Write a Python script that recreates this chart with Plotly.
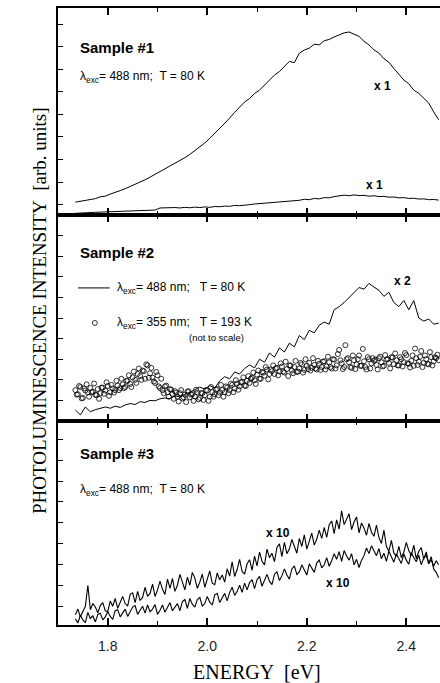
import numpy as np
import plotly.graph_objects as go

# ---------------- data ----------------
E_START = 1.735
STEP_COARSE = 0.01
STEP_FINE = 0.005

# Sample #1 (lambda_exc = 488 nm, T = 80 K)
s1_strong = [0.062, 0.066, 0.069, 0.075, 0.079, 0.088, 0.091, 0.101, 0.108, 0.118,
             0.127, 0.137, 0.148, 0.159, 0.170, 0.183, 0.196, 0.209, 0.221, 0.234,
             0.248, 0.262, 0.277, 0.293, 0.311, 0.329, 0.348, 0.370, 0.394, 0.418,
             0.445, 0.468, 0.496, 0.519, 0.546, 0.563, 0.587, 0.603, 0.628, 0.651,
             0.676, 0.693, 0.716, 0.742, 0.736, 0.782, 0.797, 0.806, 0.825, 0.822,
             0.842, 0.848, 0.860, 0.871, 0.880, 0.884, 0.872, 0.863, 0.839, 0.822,
             0.798, 0.782, 0.755, 0.738, 0.708, 0.682, 0.652, 0.634, 0.603, 0.588,
             0.562, 0.541, 0.498, 0.460]
s1_weak = [0.008, 0.010, 0.012, 0.011, 0.013, 0.014, 0.015, 0.016, 0.015, 0.018,
           0.017, 0.020, 0.019, 0.021, 0.020, 0.022, 0.024, 0.034, 0.035, 0.033,
           0.036, 0.034, 0.037, 0.035, 0.038, 0.036, 0.039, 0.037, 0.041, 0.040,
           0.043, 0.042, 0.046, 0.045, 0.049, 0.050, 0.053, 0.055, 0.057, 0.058,
           0.061, 0.062, 0.066, 0.065, 0.070, 0.071, 0.076, 0.074, 0.080, 0.078,
           0.084, 0.083, 0.089, 0.092, 0.096, 0.093, 0.097, 0.094, 0.095, 0.091,
           0.093, 0.089, 0.090, 0.086, 0.087, 0.083, 0.084, 0.080, 0.081, 0.077,
           0.078, 0.074, 0.075, 0.072]

# Sample #2: solid line (488 nm, 80 K) and circles (355 nm, 193 K)
s2_line = [0.053, 0.030, 0.068, 0.045, 0.055, 0.060, 0.068, 0.062, 0.072, 0.066,
           0.078, 0.085, 0.080, 0.094, 0.090, 0.100, 0.098, 0.108, 0.112, 0.108,
           0.122, 0.118, 0.128, 0.140, 0.152, 0.165, 0.155, 0.172, 0.160, 0.195,
           0.215, 0.205, 0.238, 0.228, 0.255, 0.272, 0.258, 0.300, 0.285, 0.330,
           0.310, 0.355, 0.335, 0.378, 0.360, 0.415, 0.395, 0.440, 0.428, 0.465,
           0.480, 0.470, 0.540, 0.555, 0.575, 0.600, 0.620, 0.648, 0.640, 0.668,
           0.650, 0.635, 0.605, 0.625, 0.575, 0.555, 0.585, 0.540, 0.585, 0.500,
           0.485, 0.495, 0.470, 0.475]
s2_circles = [0.150, 0.130, 0.165, 0.112, 0.148, 0.138, 0.160, 0.142, 0.128, 0.155,
              0.135, 0.162, 0.148, 0.170, 0.140, 0.158, 0.150, 0.172, 0.160, 0.178,
              0.165, 0.195, 0.180, 0.212, 0.200, 0.228, 0.218, 0.245, 0.205, 0.270,
              0.232, 0.210, 0.185, 0.222, 0.160, 0.150, 0.168, 0.140, 0.155, 0.132,
              0.145, 0.118, 0.135, 0.110, 0.128, 0.142, 0.115, 0.130, 0.120, 0.138,
              0.112, 0.135, 0.125, 0.148, 0.118, 0.140, 0.130, 0.155, 0.138, 0.150,
              0.140, 0.162, 0.150, 0.175, 0.158, 0.182, 0.168, 0.190, 0.172, 0.195,
              0.185, 0.210, 0.198, 0.225, 0.205, 0.238, 0.220, 0.250, 0.228, 0.242,
              0.228, 0.258, 0.240, 0.265, 0.235, 0.252, 0.270, 0.245, 0.262, 0.238,
              0.255, 0.275, 0.248, 0.268, 0.282, 0.258, 0.272, 0.250, 0.278, 0.262,
              0.290, 0.265, 0.285, 0.255, 0.298, 0.270, 0.345, 0.280, 0.262, 0.300,
              0.285, 0.258, 0.295, 0.275, 0.318, 0.268, 0.290, 0.250, 0.300, 0.280,
              0.292, 0.272, 0.305, 0.285, 0.268, 0.298, 0.282, 0.310, 0.276, 0.295,
              0.270, 0.300, 0.286, 0.320, 0.278, 0.292, 0.268, 0.305, 0.288, 0.340,
              0.282, 0.300, 0.275, 0.310, 0.290, 0.305, 0.295]
s2_circles_b = [0.128, 0.170, 0.110, 0.158, 0.178, 0.118, 0.140, 0.182, 0.125, 0.108,
                0.162, 0.132, 0.188, 0.122, 0.175, 0.138, 0.195, 0.150, 0.205, 0.160,
                0.195, 0.222, 0.165, 0.240, 0.185, 0.255, 0.200, 0.242, 0.275, 0.210,
                0.258, 0.192, 0.238, 0.168, 0.205, 0.135, 0.172, 0.118, 0.152, 0.108,
                0.138, 0.095, 0.150, 0.115, 0.092, 0.145, 0.128, 0.098, 0.152, 0.105,
                0.135, 0.102, 0.150, 0.098, 0.165, 0.118, 0.152, 0.125, 0.175, 0.118,
                0.168, 0.135, 0.182, 0.140, 0.198, 0.152, 0.188, 0.212, 0.170, 0.218,
                0.205, 0.235, 0.180, 0.245, 0.205, 0.235, 0.262, 0.202, 0.250, 0.270,
                0.255, 0.222, 0.280, 0.240, 0.288, 0.218, 0.270, 0.232, 0.292, 0.240,
                0.282, 0.235, 0.300, 0.252, 0.245, 0.305, 0.255, 0.292, 0.248, 0.288,
                0.250, 0.312, 0.262, 0.300, 0.255, 0.325, 0.295, 0.252, 0.368, 0.305,
                0.262, 0.318, 0.252, 0.300, 0.268, 0.350, 0.262, 0.310, 0.255, 0.305,
                0.298, 0.250, 0.312, 0.265, 0.320, 0.300, 0.255, 0.308, 0.328, 0.270,
                0.310, 0.265, 0.330, 0.280, 0.260, 0.318, 0.352, 0.272, 0.312, 0.262,
                0.318, 0.278, 0.335, 0.270, 0.310, 0.322]

# Sample #3 (488 nm, 80 K), two spectra each x 10
s3_upper = [0.050, 0.078, 0.040, 0.066, 0.092, 0.195, 0.075, 0.105, 0.088, 0.060,
            0.095, 0.110, 0.070, 0.065, 0.118, 0.092, 0.130, 0.082, 0.112, 0.140,
            0.105, 0.092, 0.150, 0.158, 0.110, 0.165, 0.120, 0.135, 0.185, 0.140,
            0.155, 0.200, 0.140, 0.172, 0.215, 0.175, 0.150, 0.225, 0.180, 0.228,
            0.165, 0.195, 0.248, 0.210, 0.172, 0.235, 0.195, 0.258, 0.230, 0.180,
            0.210, 0.250, 0.185, 0.225, 0.265, 0.205, 0.198, 0.255, 0.222, 0.245,
            0.210, 0.275, 0.240, 0.310, 0.238, 0.272, 0.322, 0.262, 0.250, 0.300,
            0.320, 0.268, 0.338, 0.290, 0.358, 0.312, 0.295, 0.372, 0.330, 0.352,
            0.310, 0.380, 0.398, 0.335, 0.405, 0.350, 0.372, 0.420, 0.382, 0.352,
            0.425, 0.385, 0.442, 0.372, 0.410, 0.450, 0.392, 0.420, 0.465, 0.425,
            0.478, 0.430, 0.492, 0.510, 0.448, 0.515, 0.470, 0.560, 0.492, 0.520,
            0.545, 0.468, 0.505, 0.530, 0.452, 0.500, 0.475, 0.440, 0.498, 0.455,
            0.435, 0.490, 0.428, 0.400, 0.465, 0.385, 0.362, 0.415, 0.352, 0.338,
            0.385, 0.330, 0.358, 0.405, 0.365, 0.340, 0.392, 0.325, 0.360, 0.380,
            0.322, 0.358, 0.300, 0.335, 0.275, 0.258, 0.232]
s3_lower = [0.030, 0.010, 0.048, 0.025, 0.012, 0.062, 0.032, 0.045, 0.015, 0.052,
            0.058, 0.025, 0.040, 0.065, 0.042, 0.028, 0.070, 0.075, 0.040, 0.058,
            0.078, 0.042, 0.062, 0.088, 0.095, 0.052, 0.072, 0.092, 0.058, 0.098,
            0.065, 0.078, 0.100, 0.052, 0.072, 0.098, 0.062, 0.085, 0.110, 0.070,
            0.085, 0.105, 0.070, 0.115, 0.125, 0.082, 0.130, 0.102, 0.088, 0.125,
            0.135, 0.092, 0.105, 0.140, 0.112, 0.098, 0.148, 0.155, 0.110, 0.130,
            0.155, 0.118, 0.160, 0.185, 0.145, 0.165, 0.195, 0.160, 0.205, 0.172,
            0.208, 0.222, 0.178, 0.222, 0.238, 0.190, 0.222, 0.248, 0.215, 0.198,
            0.248, 0.262, 0.218, 0.242, 0.275, 0.245, 0.225, 0.275, 0.290, 0.248,
            0.260, 0.295, 0.270, 0.245, 0.300, 0.280, 0.258, 0.305, 0.318, 0.280,
            0.295, 0.330, 0.288, 0.315, 0.350, 0.322, 0.360, 0.312, 0.365, 0.338,
            0.318, 0.350, 0.295, 0.322, 0.282, 0.318, 0.340, 0.378, 0.350, 0.388,
            0.360, 0.340, 0.375, 0.325, 0.352, 0.312, 0.362, 0.338, 0.308, 0.348,
            0.325, 0.302, 0.348, 0.318, 0.298, 0.355, 0.330, 0.310, 0.342, 0.295,
            0.328, 0.342, 0.302, 0.320, 0.288, 0.315, 0.295]

x_tick_vals = [1.8, 2.0, 2.2, 2.4]
x_tick_text = ["1.8", "2.0", "2.2", "2.4"]


def energies(vals, step, offset=0.0):
    return np.round(E_START + offset + step * np.arange(len(vals)), 4)


# ---------------- figure ----------------
SANS = "Liberation Sans, Arial, sans-serif"
SERIF = "Liberation Serif, Times New Roman, serif"
NB = "\u00a0"

fig = go.Figure()
line_style = dict(color="black", width=1)
circle_marker = dict(symbol="circle-open", size=5, color="black",
                     line=dict(width=0.8, color="black"))

# panel 1 -> x3/y3 (top), panel 2 -> x2/y2, panel 3 -> x/y (bottom)
fig.add_trace(go.Scatter(x=energies(s1_strong, STEP_COARSE), y=s1_strong, mode="lines",
                         line=line_style, xaxis="x3", yaxis="y3"))
fig.add_trace(go.Scatter(x=energies(s1_weak, STEP_COARSE), y=s1_weak, mode="lines",
                         line=line_style, xaxis="x3", yaxis="y3"))
fig.add_trace(go.Scatter(x=energies(s2_circles, STEP_FINE), y=s2_circles, mode="markers",
                         marker=circle_marker, xaxis="x2", yaxis="y2"))
fig.add_trace(go.Scatter(x=energies(s2_circles_b, STEP_FINE, 0.0025), y=s2_circles_b,
                         mode="markers", marker=circle_marker, xaxis="x2", yaxis="y2"))
fig.add_trace(go.Scatter(x=energies(s2_line, STEP_COARSE), y=s2_line, mode="lines",
                         line=line_style, xaxis="x2", yaxis="y2"))
fig.add_trace(go.Scatter(x=energies(s3_upper, STEP_FINE), y=s3_upper, mode="lines",
                         line=dict(color="black", width=1.1), xaxis="x", yaxis="y"))
fig.add_trace(go.Scatter(x=energies(s3_lower, STEP_FINE), y=s3_lower, mode="lines",
                         line=dict(color="black", width=1.1), xaxis="x", yaxis="y"))

b1, b2 = 0.3306, 0.6645
xcommon = dict(range=[1.7, 2.4677], showline=True, linewidth=1.6, linecolor="black",
               mirror="ticks", ticks="inside", ticklen=7, tickwidth=1.5, tickcolor="black",
               tickvals=x_tick_vals, ticktext=x_tick_text,
               minor=dict(ticks="inside", ticklen=4, tickwidth=1.2, tickcolor="black",
                          tickvals=[1.9, 2.1, 2.3]),
               showgrid=False, zeroline=False)
ycommon = dict(range=[0, 1], showline=True, linewidth=1.6, linecolor="black",
               ticks="inside", ticklen=5, tickwidth=1.2, tickcolor="black",
               showticklabels=False, showgrid=False, zeroline=False, mirror=False)

fig.update_layout(
    width=440, height=683,
    margin=dict(l=58, r=0, t=8, b=58),
    paper_bgcolor="white", plot_bgcolor="white",
    showlegend=False,
    xaxis=dict(xcommon, anchor="y", showticklabels=True, ticklabelstandoff=7,
               tickfont=dict(family=SANS, size=14, color="#222")),
    xaxis2=dict(xcommon, anchor="y2", showticklabels=False),
    xaxis3=dict(xcommon, anchor="y3", showticklabels=False),
    yaxis=dict(ycommon, anchor="x", domain=[0, b1], tick0=0.093, dtick=0.102),
    yaxis2=dict(ycommon, anchor="x2", domain=[b1, b2], tick0=0.1, dtick=0.1),
    yaxis3=dict(ycommon, anchor="x3", domain=[b2, 1], tick0=0.05, dtick=0.109),
)

ann = []


def text(x, y, s, xr, yr, size=13, bold=False, xanchor="left", family=SANS):
    ann.append(dict(x=x, y=y, xref=xr, yref=yr, text=("<b>%s</b>" % s) if bold else s,
                    showarrow=False, xanchor=xanchor, yanchor="middle",
                    font=dict(family=family, size=size, color="black")))


lam488 = "λ<sub>exc</sub>= 488 nm;" + NB * 2 + "T = 80 K"
# panel 1
text(1.740, 0.807, "Sample #1", "x3", "y3 domain", size=15, bold=True)
text(1.740, 0.667, lam488, "x3", "y3 domain", size=12)
text(2.353, 0.623, "x 1", "x3", "y3 domain", size=12, bold=True, xanchor="center")
text(2.337, 0.145, "x 1", "x3", "y3 domain", size=12, bold=True, xanchor="center")
# panel 2
text(1.740, 0.816, "Sample #2", "x2", "y2 domain", size=15, bold=True)
text(1.8145, 0.646, "λ<sub>exc</sub>= 488 nm;" + NB * 3 + "T = 80 K", "x2", "y2 domain", size=12)
text(1.8145, 0.476, "λ<sub>exc</sub>= 355 nm;" + NB * 3 + "T = 193 K", "x2", "y2 domain", size=12)
text(2.0195, 0.403, "(not to scale)", "x2", "y2 domain", size=9.5, xanchor="center")
text(2.393, 0.680, "x 2", "x2", "y2 domain", size=12, bold=True, xanchor="center")
# panel 3
text(1.740, 0.843, "Sample #3", "x", "y domain", size=15, bold=True)
text(1.740, 0.662, lam488, "x", "y domain", size=12)
text(2.142, 0.451, "x 10", "x", "y domain", size=12, bold=True, xanchor="center")
text(2.262, 0.206, "x 10", "x", "y domain", size=12, bold=True, xanchor="center")

# axis titles
ann.append(dict(x=2.1, y=-0.055, xref="x", yref="paper", text="ENERGY" + NB * 2 + "[eV]",
                showarrow=False, xanchor="center", yanchor="top",
                font=dict(family=SERIF, size=20, color="black")))
ann.append(dict(x=-0.047, y=0.509, xref="paper", yref="paper",
                text="PHOTOLUMINESCENCE INTENSITY" + NB * 2 + "[arb. units]",
                textangle=-90, showarrow=False, xanchor="center", yanchor="middle",
                font=dict(family=SERIF, size=19, color="black")))
fig.update_layout(annotations=ann)

# legend glyphs in panel 2
fig.add_shape(type="line", x0=1.740, x1=1.804, y0=0.646, y1=0.646,
              xref="x2", yref="y2 domain", line=dict(color="black", width=1))
fig.add_shape(type="circle", xref="x2", yref="y2 domain", xsizemode="pixel", ysizemode="pixel",
              xanchor=1.774, yanchor=0.476, x0=-2.5, x1=2.5, y0=-2.5, y1=2.5,
              line=dict(color="black", width=0.8))

fig.write_html("out.html")
